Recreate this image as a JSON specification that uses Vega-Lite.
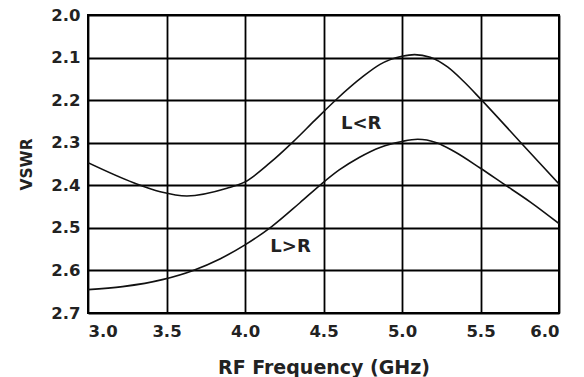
{
  "$schema": "https://vega.github.io/schema/vega-lite/v6.json",
  "width": 471,
  "height": 298,
  "autosize": {"type": "none"},
  "padding": {"left": 88, "top": 15, "right": 25, "bottom": 64},
  "background": "white",
  "config": {
    "view": {"stroke": "black", "strokeWidth": 2},
    "font": "DejaVu Sans",
    "axis": {
      "grid": true, "gridColor": "black", "gridWidth": 1.8, "gridOpacity": 1,
      "domain": false, "ticks": false,
      "labelFont": "DejaVu Sans", "labelFontWeight": "bold", "labelFontSize": 16.5, "labelColor": "#222",
      "titleFont": "DejaVu Sans", "titleFontWeight": "bold", "titleColor": "#222"
    }
  },
  "datasets": {
    "curves": [
      {"f": 3.0, "v": 2.347, "s": "L<R"},
      {"f": 3.29, "v": 2.394, "s": "L<R"},
      {"f": 3.46, "v": 2.415, "s": "L<R"},
      {"f": 3.63, "v": 2.425, "s": "L<R"},
      {"f": 3.885, "v": 2.407, "s": "L<R"},
      {"f": 4.0, "v": 2.392, "s": "L<R"},
      {"f": 4.16, "v": 2.347, "s": "L<R"},
      {"f": 4.306, "v": 2.298, "s": "L<R"},
      {"f": 4.446, "v": 2.247, "s": "L<R"},
      {"f": 4.58, "v": 2.199, "s": "L<R"},
      {"f": 4.75, "v": 2.145, "s": "L<R"},
      {"f": 4.86, "v": 2.116, "s": "L<R"},
      {"f": 5.0, "v": 2.097, "s": "L<R"},
      {"f": 5.08, "v": 2.093, "s": "L<R"},
      {"f": 5.18, "v": 2.099, "s": "L<R"},
      {"f": 5.29, "v": 2.122, "s": "L<R"},
      {"f": 5.39, "v": 2.155, "s": "L<R"},
      {"f": 5.5, "v": 2.197, "s": "L<R"},
      {"f": 5.75, "v": 2.297, "s": "L<R"},
      {"f": 6.0, "v": 2.397, "s": "L<R"},
      {"f": 3.0, "v": 2.645, "s": "L>R"},
      {"f": 3.22, "v": 2.638, "s": "L>R"},
      {"f": 3.48, "v": 2.621, "s": "L>R"},
      {"f": 3.67, "v": 2.6, "s": "L>R"},
      {"f": 3.84, "v": 2.573, "s": "L>R"},
      {"f": 4.0, "v": 2.54, "s": "L>R"},
      {"f": 4.17, "v": 2.497, "s": "L>R"},
      {"f": 4.35, "v": 2.441, "s": "L>R"},
      {"f": 4.49, "v": 2.396, "s": "L>R"},
      {"f": 4.6, "v": 2.364, "s": "L>R"},
      {"f": 4.73, "v": 2.334, "s": "L>R"},
      {"f": 4.86, "v": 2.311, "s": "L>R"},
      {"f": 5.0, "v": 2.297, "s": "L>R"},
      {"f": 5.1, "v": 2.292, "s": "L>R"},
      {"f": 5.22, "v": 2.3, "s": "L>R"},
      {"f": 5.33, "v": 2.32, "s": "L>R"},
      {"f": 5.5, "v": 2.36, "s": "L>R"},
      {"f": 5.64, "v": 2.395, "s": "L>R"},
      {"f": 5.82, "v": 2.44, "s": "L>R"},
      {"f": 6.0, "v": 2.49, "s": "L>R"}
    ],
    "labels": [
      {"f": 4.74, "v": 2.255, "t": "L<R"},
      {"f": 4.29, "v": 2.546, "t": "L>R"}
    ]
  },
  "layer": [
    {
      "data": {"name": "curves"},
      "mark": {"type": "line", "color": "#111", "strokeWidth": 1.6, "interpolate": "monotone", "clip": true},
      "encoding": {
        "x": {"field": "f", "type": "quantitative", "scale": {"domain": [3, 6], "nice": false},
          "axis": {"values": [3, 3.5, 4, 4.5, 5, 5.5, 6], "format": ".1f", "title": "RF Frequency (GHz)", "titleFontSize": 19, "labelPadding": 10, "titlePadding": 19}},
        "y": {"field": "v", "type": "quantitative", "scale": {"domain": [2.0, 2.7], "reverse": true, "nice": false, "zero": false},
          "axis": {"values": [2.0, 2.1, 2.2, 2.3, 2.4, 2.5, 2.6, 2.7], "format": ".1f", "title": "VSWR", "titleFontSize": 15.5, "labelPadding": 8, "titlePadding": 16}},
        "detail": {"field": "s"}
      }
    },
    {
      "data": {"name": "labels"},
      "mark": {"type": "text", "font": "DejaVu Sans", "fontWeight": "bold", "fontSize": 18, "color": "#222"},
      "encoding": {
        "x": {"field": "f", "type": "quantitative"},
        "y": {"field": "v", "type": "quantitative"},
        "text": {"field": "t"}
      }
    }
  ]
}
